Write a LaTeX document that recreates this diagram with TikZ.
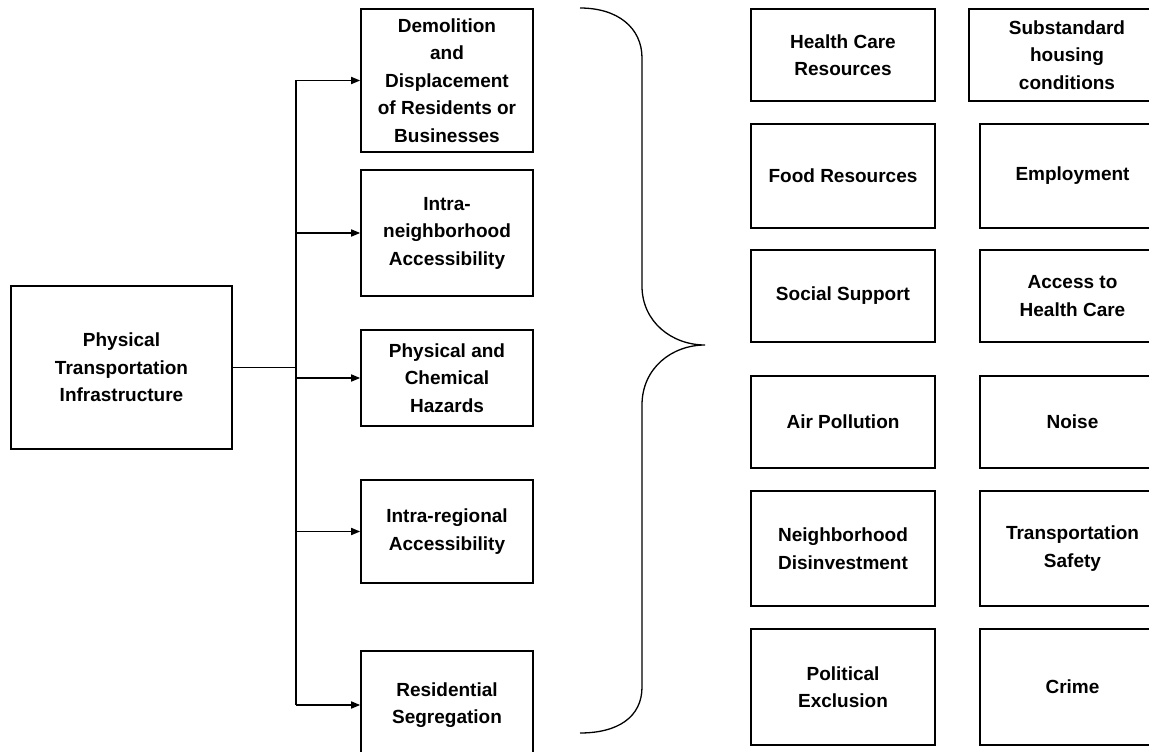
\documentclass[tikz,border=0pt]{standalone}
\usepackage{fontspec}
\setmainfont{Liberation Sans}
\usetikzlibrary{arrows.meta}
\begin{document}
\begin{tikzpicture}[x=1pt,y=-1pt,
  box/.style={draw, line width=1.6pt, rectangle, align=center, inner sep=0pt,
    font={\fontsize{19}{27.5}\selectfont\bfseries}},
  conn/.style={line width=1.6pt},
  arr/.style={line width=1.6pt, -{Triangle[length=9pt,width=7pt]}},
  brace/.style={line width=1.3pt}]
\useasboundingbox (0,0) rectangle (1149,752);
\clip (0,0) rectangle (1149,752);
% left
\node[box, minimum width=221pt, minimum height=163pt] (L) at (121.5,367.5) {Physical\\Transportation\\Infrastructure};
% middle column
\node[box, minimum width=172pt, minimum height=143pt] (dem) at (447,80.5) {Demolition\\and\\Displacement\\of Residents or\\Businesses};
\node[box, minimum width=172pt, minimum height=126pt] (intn) at (447,233) {Intra-\\neighborhood\\Accessibility};
\node[box, minimum width=172pt, minimum height=96pt] (phys) at (447,378) {Physical and\\Chemical\\Hazards};
\node[box, minimum width=172pt, minimum height=103pt] (intr) at (447,531.5) {Intra-regional\\Accessibility};
\node[box, minimum width=172pt, minimum height=108pt] (res) at (447,705) {Residential\\Segregation};
% trunk
\coordinate (trunk) at (296,367.5);
\draw[conn] (L.east) -- (L.east -| trunk);
\draw[conn] (trunk |- dem.west) -- (trunk |- res.west);
\foreach \n in {dem,intn,phys,intr,res}{
  \draw[arr] (trunk |- \n.west) -- (\n.west);
}
% brace
\draw[brace] (580,8) .. controls (618,8) and (642,28) .. (642,58)
  -- (642,286) .. controls (642,322) and (672,345) .. (705,345)
  .. controls (672,345) and (642,368) .. (642,405)
  -- (642,687) .. controls (642,717) and (618,733) .. (580,733);
% right left column
\node[box, minimum width=184pt, minimum height=92pt] (hc) at (843,55) {Health Care\\Resources};
\node[box, minimum width=184pt, minimum height=104pt] (food) at (843,176) {Food Resources};
\node[box, minimum width=184pt, minimum height=92pt] (soc) at (843,296) {Social Support};
\node[box, minimum width=184pt, minimum height=92pt] (air) at (843,422) {Air Pollution};
\node[box, minimum width=184pt, minimum height=115pt] (nd) at (843,548.5) {Neighborhood\\Disinvestment};
\node[box, minimum width=184pt, minimum height=116pt] (pol) at (843,687) {Political\\Exclusion};
% right right column
\node[box, minimum width=196pt, minimum height=92pt] (sub) at (1067,55) {Substandard\\housing\\conditions};
\node[box, minimum width=185pt, minimum height=104pt] (emp) at (1072.5,176) {Employment};
\node[box, minimum width=185pt, minimum height=92pt] (acc) at (1072.5,296) {Access to\\Health Care};
\node[box, minimum width=185pt, minimum height=92pt] (noise) at (1072.5,422) {Noise};
\node[box, minimum width=185pt, minimum height=115pt] (ts) at (1072.5,548.5) {Transportation\\Safety};
\node[box, minimum width=185pt, minimum height=116pt] (crime) at (1072.5,687) {Crime};
\end{tikzpicture}
\end{document}
